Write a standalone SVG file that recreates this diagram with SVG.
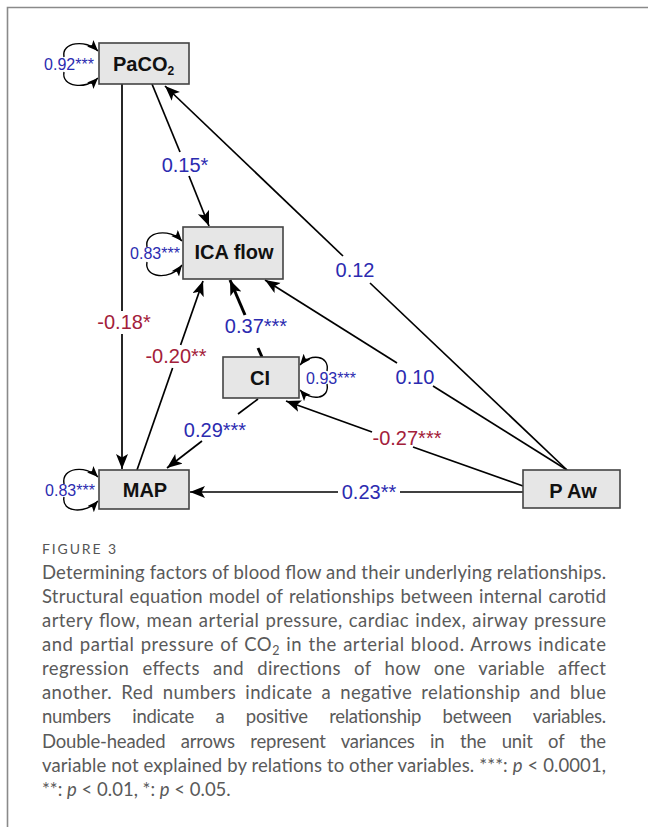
<svg xmlns="http://www.w3.org/2000/svg" width="648" height="827" viewBox="0 0 648 827">
<style>
.box{fill:#e6e6e6;stroke:#444;stroke-width:1.6}
.nt{font-family:"Liberation Sans",Arial,sans-serif;font-weight:bold;font-size:20px;fill:#111}
.ln{fill:none;stroke:#000;stroke-width:1.7}
.thick{stroke-width:3}
.lp{font-family:"Liberation Sans",Arial,sans-serif;font-size:20px}
.ls{font-family:"Liberation Sans",Arial,sans-serif;font-size:16px;fill:#2b2bb0}
.pos{fill:#2b2bb0}
.neg{fill:#a3203a}
.loop{fill:none;stroke:#000;stroke-width:1.4}
.cap{font-family:Lato,"Open Sans",sans-serif;font-weight:400;font-size:18.5px;fill:#5a5a5a}
.frame{stroke:#8a8a8a;stroke-width:1.6;fill:none}
</style>
<defs>
<marker id="ah" markerUnits="userSpaceOnUse" markerWidth="17" markerHeight="13" refX="15" refY="6" orient="auto">
<path d="M0,0 L15,6 L0,12 L3.5,6 z" fill="#000"/>
</marker>
<marker id="ahs" markerUnits="userSpaceOnUse" markerWidth="12" markerHeight="10" refX="11" refY="4.5" orient="auto">
<path d="M0,0 L11,4.5 L0,9 L2.5,4.5 z" fill="#000"/>
</marker>
</defs>
<rect width="648" height="827" fill="#fff"/>
<path class="frame" d="M7.5,827 L7.5,7.5 L648,7.5"/>

<g id="connectors">
<!-- PaCO2 -> MAP -->
<line class="ln" x1="122" y1="84" x2="122" y2="311"/>
<line class="ln" x1="122" y1="334" x2="122" y2="469" marker-end="url(#ah)"/>
<text class="lp neg" x="124" y="329" text-anchor="middle">-0.18*</text>
<!-- PaCO2 -> ICA -->
<line class="ln" x1="152" y1="84" x2="180" y2="152"/>
<line class="ln" x1="189" y1="176" x2="209" y2="226" marker-end="url(#ah)"/>
<text class="lp pos" x="185" y="172" text-anchor="middle">0.15*</text>
<!-- P Aw -> PaCO2 -->
<line class="ln" x1="567" y1="470" x2="370" y2="283"/>
<line class="ln" x1="343" y1="256" x2="165" y2="86" marker-end="url(#ah)"/>
<text class="lp pos" x="355" y="277" text-anchor="middle">0.12</text>
<!-- P Aw -> ICA -->
<line class="ln" x1="567" y1="470" x2="433" y2="386"/>
<line class="ln" x1="397" y1="363" x2="265" y2="280" marker-end="url(#ah)"/>
<text class="lp pos" x="415" y="384" text-anchor="middle">0.10</text>
<!-- P Aw -> CI -->
<line class="ln" x1="523" y1="486" x2="413" y2="447"/>
<line class="ln" x1="372" y1="432" x2="286" y2="401" marker-end="url(#ah)"/>
<text class="lp neg" x="407" y="445" text-anchor="middle">-0.27***</text>
<!-- P Aw -> MAP -->
<line class="ln" x1="523" y1="492" x2="400" y2="492"/>
<line class="ln" x1="338" y1="492" x2="190" y2="492" marker-end="url(#ah)"/>
<text class="lp pos" x="369" y="499" text-anchor="middle">0.23**</text>
<!-- CI -> ICA -->
<line class="ln thick" x1="262" y1="357" x2="258" y2="348"/>
<line class="ln thick" x1="245" y1="315" x2="230" y2="280" marker-end="url(#ah)"/>
<text class="lp pos" x="256" y="333" text-anchor="middle">0.37***</text>
<!-- CI -> MAP -->
<line class="ln" x1="258" y1="399" x2="238" y2="414"/>
<line class="ln" x1="202" y1="441" x2="167" y2="468" marker-end="url(#ah)"/>
<text class="lp pos" x="215" y="437" text-anchor="middle">0.29***</text>
<!-- MAP -> ICA -->
<line class="ln" x1="137" y1="470" x2="172.6" y2="368"/>
<line class="ln" x1="180.6" y1="345" x2="203" y2="281" marker-end="url(#ah)"/>
<text class="lp neg" x="176" y="363" text-anchor="middle">-0.20**</text>
<!-- variance loops -->
<path class="loop" d="M64,57 C61,42 86,39 98,51" marker-end="url(#ahs)"/>
<path class="loop" d="M64,72 C61,87 86,90 98,78" marker-end="url(#ahs)"/>
<text class="ls" x="69" y="70" text-anchor="middle">0.92***</text>
<path class="loop" d="M147,247 C144,231 170,228 182,241" marker-end="url(#ahs)"/>
<path class="loop" d="M147,262 C144,278 170,281 182,265" marker-end="url(#ahs)"/>
<text class="ls" x="155" y="259" text-anchor="middle">0.83***</text>
<path class="loop" d="M64,484 C61,467 86,465 98,477" marker-end="url(#ahs)"/>
<path class="loop" d="M64,497 C61,513 86,514 98,501" marker-end="url(#ahs)"/>
<text class="ls" x="70" y="496" text-anchor="middle">0.83***</text>
<path class="loop" d="M327,371 C330,355 310,353 300,365" marker-end="url(#ahs)"/>
<path class="loop" d="M327,384 C330,400 310,401 300,390" marker-end="url(#ahs)"/>
<text class="ls" x="331" y="384" text-anchor="middle">0.93***</text>
</g>

<g id="paco2">
<rect class="box" x="99" y="43" width="90" height="41"/>
<text class="nt" x="113" y="71">PaCO<tspan font-size="12" dy="4">2</tspan></text>
</g>
<g id="ica">
<rect class="box" x="183" y="227" width="100" height="52"/>
<text class="nt" x="234" y="259" text-anchor="middle">ICA flow</text>
</g>
<g id="ci">
<rect class="box" x="223" y="357" width="76" height="41"/>
<text class="nt" x="260" y="385" text-anchor="middle">CI</text>
</g>
<g id="map">
<rect class="box" x="99" y="470" width="90" height="39"/>
<text class="nt" x="145" y="497" text-anchor="middle">MAP</text>
</g>
<g id="paw">
<rect class="box" x="523" y="470" width="97" height="38"/>
<text class="nt" x="573" y="498" text-anchor="middle">P Aw</text>
</g>

<g id="caption">
<text x="42" y="554" font-family="Lato,'Open Sans',sans-serif" font-size="14" fill="#555" textLength="74" lengthAdjust="spacing">FIGURE 3</text>
<text class="cap" x="42" y="579" textLength="564" lengthAdjust="spacing">Determining factors of blood flow and their underlying relationships.</text>
<text class="cap" x="42" y="603" textLength="564" lengthAdjust="spacing" word-spacing="1">Structural equation model of relationships between internal carotid</text>
<text class="cap" x="42" y="627" textLength="564" lengthAdjust="spacing" word-spacing="1">artery flow, mean arterial pressure, cardiac index, airway pressure</text>
<text class="cap" x="42" y="651" textLength="564" lengthAdjust="spacing" word-spacing="1">and partial pressure of CO<tspan font-size="12.5" dy="4">2</tspan><tspan dy="-4"> in the arterial blood. Arrows indicate</tspan></text>
<text class="cap" x="42" y="675" textLength="564" lengthAdjust="spacing" word-spacing="8">regression effects and directions of how one variable affect</text>
<text class="cap" x="42" y="699" textLength="564" lengthAdjust="spacing" word-spacing="4">another. Red numbers indicate a negative relationship and blue</text>
<text class="cap" x="42" y="723" textLength="564" lengthAdjust="spacing" word-spacing="17">numbers indicate a positive relationship between variables.</text>
<text class="cap" x="42" y="748" textLength="564" lengthAdjust="spacing" word-spacing="11">Double-headed arrows represent variances in the unit of the</text>
<text class="cap" x="42" y="772" textLength="564" lengthAdjust="spacing">variable not explained by relations to other variables. ***: <tspan font-style="italic">p</tspan> &lt; 0.0001,</text>
<text class="cap" x="42" y="796">**: <tspan font-style="italic">p</tspan> &lt; 0.01, *: <tspan font-style="italic">p</tspan> &lt; 0.05.</text>
</g>
</svg>
